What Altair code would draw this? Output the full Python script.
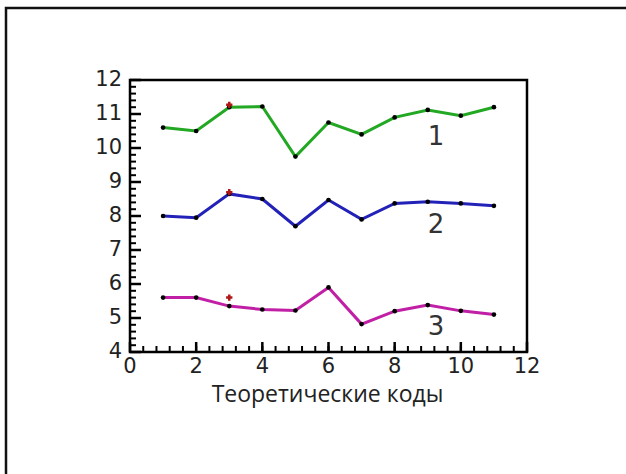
import altair as alt
import pandas as pd

# Theoretical code index along the x axis
codes = [1, 2, 3, 4, 5, 6, 7, 8, 9, 10, 11]

# Three measured series
series_1 = [10.6, 10.5, 11.2, 11.22, 9.75, 10.75, 10.4, 10.9, 11.12, 10.95, 11.2]
series_2 = [8.0, 7.95, 8.65, 8.5, 7.7, 8.47, 7.9, 8.37, 8.42, 8.37, 8.3]
series_3 = [5.6, 5.6, 5.35, 5.25, 5.22, 5.9, 4.82, 5.2, 5.38, 5.21, 5.1]

# Highlighted reference values at code 3
star_x = [3, 3, 3]
star_y = [11.27, 8.7, 5.6]

# Curve numbers placed beside each line
curve_names = ["1", "2", "3"]
curve_x = [9.25, 9.25, 9.25]
curve_y = [10.33, 7.75, 4.75]

series_names = ["1", "2", "3"]
series_colors = ["#22a822", "#2222b8", "#c01fa6"]

# Axis tick values and title
x_major = [0, 2, 4, 6, 8, 10, 12]
x_minor = [round(i * 0.4, 2) for i in range(31)]
y_major = [4, 5, 6, 7, 8, 9, 10, 11, 12]
y_minor = [round(4 + i * 0.2, 2) for i in range(41)]
x_title = "Теоретические коды"

rows = []
for name, vals in zip(series_names, [series_1, series_2, series_3]):
    for c, v in zip(codes, vals):
        rows.append({"code": c, "value": v, "series": name})
df = pd.DataFrame(rows)
stars = pd.DataFrame({"code": star_x, "value": star_y})
labels = pd.DataFrame({"code": curve_x, "value": curve_y, "name": curve_names})

PLOT_W, PLOT_H = 397, 272

xs = alt.Scale(domain=[0, 12], nice=False, zero=False)
ys = alt.Scale(domain=[4, 12], nice=False, zero=False)
X = dict(scale=xs, axis=None)
Y = dict(scale=ys, axis=None)

label_font = "DejaVu Sans"

lines = alt.Chart(df).mark_line(strokeWidth=3).encode(
    x=alt.X("code:Q", **X),
    y=alt.Y("value:Q", **Y),
    color=alt.Color("series:N", scale=alt.Scale(domain=series_names, range=series_colors),
                    legend=None),
    detail="series:N",
)

points = alt.Chart(df).mark_circle(size=22, color="black", opacity=1).encode(
    x=alt.X("code:Q", **X),
    y=alt.Y("value:Q", **Y),
)

star_marks = alt.Chart(stars).mark_point(shape="cross", size=40, filled=True,
                                         color="#b01818", opacity=1).encode(
    x=alt.X("code:Q", **X),
    y=alt.Y("value:Q", **Y),
)

curve_text = alt.Chart(labels).mark_text(font=label_font, fontSize=26, color="#333",
                                         align="center", baseline="middle").encode(
    x=alt.X("code:Q", **X),
    y=alt.Y("value:Q", **Y),
    text="name:N",
)


# Inward tick marks along the bottom and left edges
def x_ticks(values, length, width):
    return alt.Chart(pd.DataFrame({"tick": values})).mark_rule(
        color="black", strokeWidth=width, opacity=1).encode(
        x=alt.X("tick:Q", **X),
        y=alt.value(PLOT_H - length),
        y2=alt.value(PLOT_H),
    )


def y_ticks(values, length, width):
    return alt.Chart(pd.DataFrame({"tick": values})).mark_rule(
        color="black", strokeWidth=width, opacity=1).encode(
        y=alt.Y("tick:Q", **Y),
        x=alt.value(0),
        x2=alt.value(length),
    )


ticks = [
    x_ticks(x_minor, 6, 2),
    x_ticks(x_major, 10, 2.5),
    y_ticks(y_minor, 6, 2),
    y_ticks(y_major, 11, 2.5),
]

# Tick labels placed through the same scales
x_labels = alt.Chart(pd.DataFrame({"tick": x_major})).mark_text(
    font=label_font, fontSize=21, color="#222", align="center", baseline="top").encode(
    x=alt.X("tick:Q", **X),
    y=alt.value(PLOT_H + 4),
    text="tick:Q",
)
y_labels = alt.Chart(pd.DataFrame({"tick": y_major})).mark_text(
    font=label_font, fontSize=21, color="#222", align="right", baseline="middle").encode(
    y=alt.Y("tick:Q", **Y),
    x=alt.value(-8),
    text="tick:Q",
)
title = alt.Chart(pd.DataFrame({"t": [x_title]})).mark_text(
    font="Open Sans", fontSize=23, color="#222", align="center", baseline="middle").encode(
    x=alt.value(PLOT_W / 2 - 1),
    y=alt.value(PLOT_H + 43),
    text="t:N",
)

# Outer page frame
frame = alt.Chart(pd.DataFrame({"f": [0]})).mark_rect(
    filled=False, stroke="#111", strokeWidth=2.5).encode(
    x=alt.value(-124), x2=alt.value(700), y=alt.value(-72), y2=alt.value(600),
)

chart = alt.layer(lines, *ticks, points, star_marks, curve_text,
                  x_labels, y_labels, title, frame).properties(
    width=PLOT_W, height=PLOT_H,
    padding={"left": 130, "top": 80, "right": 99, "bottom": 122},
    autosize=alt.AutoSizeParams(type="none"),
    background="white",
).configure_view(stroke="black", strokeWidth=2.5)

chart.save("out.html", embed_options={"renderer": "svg", "actions": False})
